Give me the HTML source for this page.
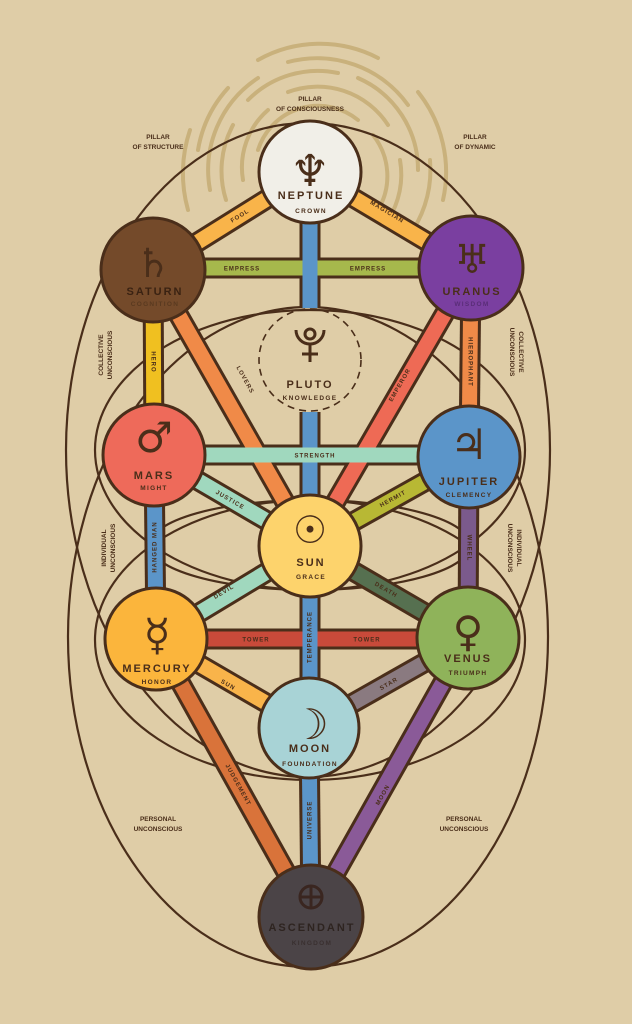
<!DOCTYPE html>
<html><head><meta charset="utf-8"><style>
html,body{margin:0;padding:0;background:#dfcda7;}
svg{display:block}
text{font-family:"Liberation Sans","DejaVu Sans",sans-serif;fill:#4a2e1a;font-weight:bold;}
.t{font-size:6px;letter-spacing:1px;text-anchor:middle;dominant-baseline:middle}
.s{font-size:6.5px;text-anchor:middle}
.sym{font-family:"DejaVu Sans",sans-serif;font-weight:normal;text-anchor:middle}
.nm{font-size:11px;letter-spacing:2px;text-anchor:middle}
.sb{font-size:6.5px;letter-spacing:1.3px;text-anchor:middle}
</style></head><body>
<svg width="632" height="1024" viewBox="0 0 632 1024" xmlns="http://www.w3.org/2000/svg">
<rect width="632" height="1024" fill="#dfcda7"/>
<!-- spiral -->
<g fill="none" stroke="#c9b17c" stroke-width="4" stroke-linecap="round" transform="translate(318,170)">
<path d="M-60 -20 A63 63 0 0 1 40 -50" />
<path d="M55 -35 A66 66 0 0 1 60 40" />
<path d="M-75 10 A76 76 0 0 1 -50 -60" />
<path d="M-30 -78 A84 84 0 0 1 70 -45" />
<path d="M82 -10 A84 84 0 0 1 70 50" />
<path d="M-92 30 A97 97 0 0 1 -85 -45" />
<path d="M-70 -70 A98 98 0 0 1 20 -97" />
<path d="M40 -92 A100 100 0 0 1 100 0" />
<path d="M-108 20 A110 110 0 0 1 -60 -92" />
<path d="M-30 -108 A112 112 0 0 1 90 -65" />
<path d="M112 -10 A112 112 0 0 1 95 60" />
<path d="M-120 -20 A122 122 0 0 1 -90 -82" />
<path d="M-60 -110 A126 126 0 0 1 60 -112" />
<path d="M100 -78 A128 128 0 0 1 125 30" />
<path d="M-130 40 A135 135 0 0 1 -128 -40" />
<path d="M120 60 A135 135 0 0 1 100 90" />
</g>
<!-- big curves -->
<g fill="none" stroke="#4a2e1a" stroke-width="2.2">
<ellipse cx="308" cy="450" rx="242" ry="327"/>
<ellipse cx="308" cy="637" rx="240" ry="330"/>
<ellipse cx="310" cy="450" rx="215" ry="140"/>
<ellipse cx="310" cy="640" rx="215" ry="140"/>
<ellipse cx="310" cy="545" rx="160" ry="45"/>
</g>
<!-- bars -->
<g stroke-linecap="butt">
<g stroke="#4a2e1a" stroke-width="21">
<line x1="310" y1="172" x2="153" y2="270"/><line x1="310" y1="172" x2="471" y2="268"/>
<line x1="153" y1="268" x2="471" y2="268"/>
<line x1="310" y1="220" x2="310" y2="308"/><line x1="310" y1="412" x2="310" y2="500"/>
<line x1="153" y1="270" x2="154" y2="455"/><line x1="153" y1="270" x2="310" y2="546"/>
<line x1="471" y1="268" x2="310" y2="546"/><line x1="471" y1="268" x2="469" y2="457"/>
<line x1="154" y1="455" x2="469" y2="455"/><line x1="154" y1="455" x2="310" y2="546"/>
<line x1="469" y1="457" x2="310" y2="546"/><line x1="154" y1="455" x2="156" y2="639"/>
<line x1="469" y1="457" x2="468" y2="638"/><line x1="310" y1="546" x2="156" y2="639"/>
<line x1="310" y1="546" x2="468" y2="638"/><line x1="156" y1="639" x2="468" y2="639"/>
<line x1="310" y1="546" x2="310" y2="728"/><line x1="156" y1="639" x2="309" y2="728"/>
<line x1="468" y1="638" x2="309" y2="728"/><line x1="156" y1="639" x2="311" y2="917"/>
<line x1="309" y1="728" x2="311" y2="917"/><line x1="468" y1="638" x2="311" y2="917"/>
</g>
<g stroke-width="15">
<line x1="310" y1="172" x2="153" y2="270" stroke="#f9b44a"/><line x1="310" y1="172" x2="471" y2="268" stroke="#f9b44a"/>
<line x1="153" y1="268" x2="471" y2="268" stroke="#a6b84c"/>
<line x1="310" y1="220" x2="310" y2="308" stroke="#5b95c9"/><line x1="310" y1="412" x2="310" y2="500" stroke="#5b95c9"/>
<line x1="153" y1="270" x2="154" y2="455" stroke="#f0c020"/><line x1="153" y1="270" x2="310" y2="546" stroke="#f08a48"/>
<line x1="471" y1="268" x2="310" y2="546" stroke="#ee6a55"/><line x1="471" y1="268" x2="469" y2="457" stroke="#f08a48"/>
<line x1="154" y1="455" x2="469" y2="455" stroke="#a0d8be"/><line x1="154" y1="455" x2="310" y2="546" stroke="#a0d8be"/>
<line x1="469" y1="457" x2="310" y2="546" stroke="#b8b834"/><line x1="154" y1="455" x2="156" y2="639" stroke="#5b95c9"/>
<line x1="469" y1="457" x2="468" y2="638" stroke="#7b5a8c"/><line x1="310" y1="546" x2="156" y2="639" stroke="#a0d8be"/>
<line x1="310" y1="546" x2="468" y2="638" stroke="#567050"/><line x1="156" y1="639" x2="468" y2="639" stroke="#c84a3a"/>
<line x1="310" y1="546" x2="310" y2="728" stroke="#5b95c9"/><line x1="156" y1="639" x2="309" y2="728" stroke="#f9b44a"/>
<line x1="468" y1="638" x2="309" y2="728" stroke="#8a7a80"/><line x1="156" y1="639" x2="311" y2="917" stroke="#d9733a"/>
<line x1="309" y1="728" x2="311" y2="917" stroke="#5b95c9"/><line x1="468" y1="638" x2="311" y2="917" stroke="#8a5a98"/>
</g>
</g>
<!-- bar labels -->
<text class="t" transform="translate(240,216) rotate(-32)">FOOL</text>
<text class="t" transform="translate(387,212) rotate(31)">MAGICIAN</text>
<text class="t" x="242" y="269">EMPRESS</text>
<text class="t" x="368" y="269">EMPRESS</text>
<text class="t" transform="translate(153,362) rotate(90)">HERO</text>
<text class="t" transform="translate(245,380) rotate(61)">LOVERS</text>
<text class="t" transform="translate(400,385) rotate(-60)">EMPEROR</text>
<text class="t" transform="translate(470,362) rotate(90)">HIEROPHANT</text>
<text class="t" x="315" y="456">STRENGTH</text>
<text class="t" transform="translate(230,500) rotate(30)">JUSTICE</text>
<text class="t" transform="translate(393,499) rotate(-29)">HERMIT</text>
<text class="t" transform="translate(155,547) rotate(-90)">HANGED MAN</text>
<text class="t" transform="translate(469,548) rotate(90)">WHEEL</text>
<text class="t" transform="translate(224,592) rotate(-31)">DEVIL</text>
<text class="t" transform="translate(386,590) rotate(30)">DEATH</text>
<text class="t" x="256" y="640">TOWER</text>
<text class="t" x="367" y="640">TOWER</text>
<text class="t" transform="translate(310,637) rotate(-90)">TEMPERANCE</text>
<text class="t" transform="translate(228,685) rotate(30)">SUN</text>
<text class="t" transform="translate(389,684) rotate(-30)">STAR</text>
<text class="t" transform="translate(238,785) rotate(61)">JUDGEMENT</text>
<text class="t" transform="translate(310,820) rotate(-90)">UNIVERSE</text>
<text class="t" transform="translate(383,795) rotate(-61)">MOON</text>
<!-- nodes -->
<g stroke="#4a2e1a" stroke-width="3">
<circle cx="310" cy="172" r="51" fill="#f1efe8"/>
<circle cx="153" cy="270" r="52" fill="#744a2a"/>
<circle cx="471" cy="268" r="52" fill="#7a3fa0"/>
<circle cx="310" cy="360" r="51" fill="none" stroke-width="1.6" stroke-dasharray="7 5"/>
<circle cx="154" cy="455" r="51" fill="#ee6a5a"/>
<circle cx="469" cy="457" r="51" fill="#5b95c9"/>
<circle cx="310" cy="546" r="51" fill="#fdd36c"/>
<circle cx="156" cy="639" r="51" fill="#fbb53c"/>
<circle cx="468" cy="638" r="51" fill="#8fb35a"/>
<circle cx="309" cy="728" r="50" fill="#a8d3d6"/>
<circle cx="311" cy="917" r="52" fill="#4b4447"/>
</g>
<text class="sym" x="310" y="186" font-size="44">♆</text>
<text class="nm" x="311" y="199">NEPTUNE</text><text class="sb" x="311" y="213">CROWN</text>
<text class="sym" x="153" y="277" font-size="40">♄</text>
<text class="nm" x="155" y="295" style="fill:#3a2212">SATURN</text><text class="sb" x="155" y="306" style="fill:#5a3a20">COGNITION</text>
<text class="sym" x="472" y="273" font-size="40">♅</text>
<text class="nm" x="472" y="295">URANUS</text><text class="sb" x="472" y="306" style="fill:#5a2e78">WISDOM</text>
<!-- pluto symbol drawn -->
<g fill="none" stroke="#4a2e1a" stroke-width="3">
<circle cx="310" cy="334" r="5"/>
<path d="M296 330 A14 14 0 0 0 324 330"/>
<line x1="310" y1="344" x2="310" y2="362"/>
<line x1="302" y1="354" x2="318" y2="354"/>
</g>
<text class="nm" x="310" y="388">PLUTO</text><text class="sb" x="310" y="400">KNOWLEDGE</text>
<text class="sym" x="154" y="452" font-size="42">♂</text>
<text class="nm" x="154" y="479">MARS</text><text class="sb" x="154" y="490">MIGHT</text>
<text class="sym" x="469" y="459" font-size="42">♃</text>
<text class="nm" x="469" y="485">JUPITER</text><text class="sb" x="469" y="497">CLEMENCY</text>
<text class="sym" x="310" y="543" font-size="38">☉</text>
<text class="nm" x="311" y="566">SUN</text><text class="sb" x="311" y="579">GRACE</text>
<text class="sym" x="157" y="650" font-size="44">☿</text>
<text class="nm" x="157" y="672">MERCURY</text><text class="sb" x="157" y="684">HONOR</text>
<text class="sym" x="468" y="646" font-size="42">♀</text>
<text class="nm" x="468" y="662">VENUS</text><text class="sb" x="468" y="675">TRIUMPH</text>
<text class="sym" x="310" y="739" font-size="42">☽</text>
<text class="nm" x="310" y="752">MOON</text><text class="sb" x="310" y="766">FOUNDATION</text>
<g fill="none" stroke="#3a2620" stroke-width="3">
<circle cx="311" cy="897" r="11"/><line x1="311" y1="886" x2="311" y2="908"/><line x1="300" y1="897" x2="322" y2="897"/>
</g>
<text class="nm" x="312" y="931" style="fill:#2e2420">ASCENDANT</text><text class="sb" x="312" y="945" style="fill:#3a3030">KINGDOM</text>
<!-- area labels -->
<text class="s" x="310" y="101">PILLAR</text><text class="s" x="310" y="111">OF CONSCIOUSNESS</text>
<text class="s" x="158" y="139">PILLAR</text><text class="s" x="158" y="149">OF STRUCTURE</text>
<text class="s" x="475" y="139">PILLAR</text><text class="s" x="475" y="149">OF DYNAMIC</text>
<g transform="translate(103,355) rotate(-90)"><text class="s" x="0" y="0">COLLECTIVE</text><text class="s" x="0" y="9">UNCONSCIOUS</text></g>
<g transform="translate(519,352) rotate(90)"><text class="s" x="0" y="0">COLLECTIVE</text><text class="s" x="0" y="9">UNCONSCIOUS</text></g>
<g transform="translate(106,548) rotate(-90)"><text class="s" x="0" y="0">INDIVIDUAL</text><text class="s" x="0" y="9">UNCONSCIOUS</text></g>
<g transform="translate(517,548) rotate(90)"><text class="s" x="0" y="0">INDIVIDUAL</text><text class="s" x="0" y="9">UNCONSCIOUS</text></g>
<text class="s" x="158" y="821">PERSONAL</text><text class="s" x="158" y="831">UNCONSCIOUS</text>
<text class="s" x="464" y="821">PERSONAL</text><text class="s" x="464" y="831">UNCONSCIOUS</text>
</svg>
</body></html>
